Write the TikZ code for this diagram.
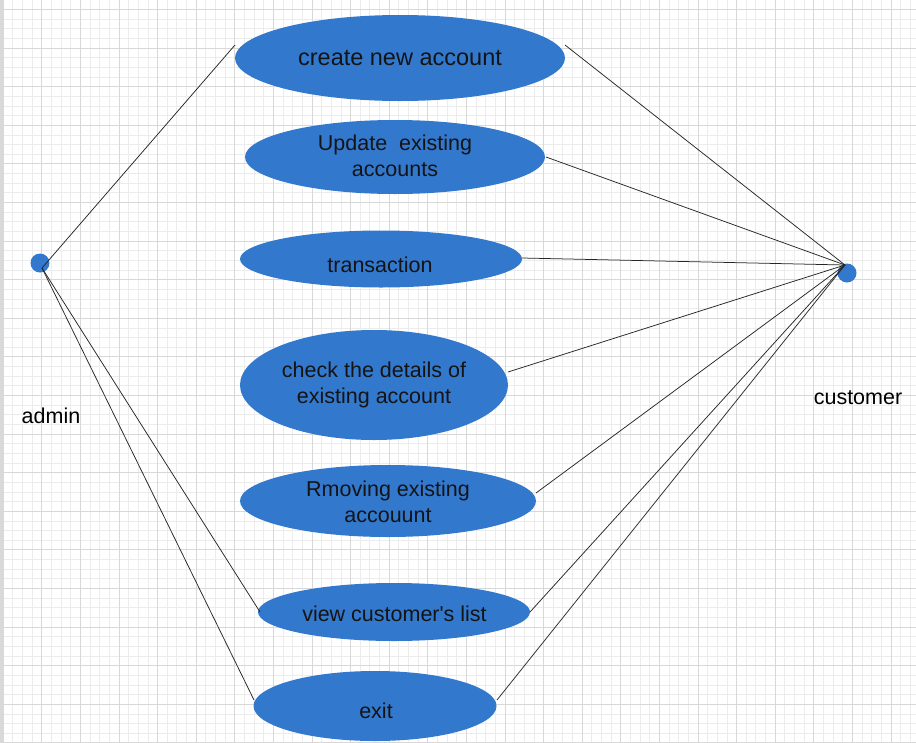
\documentclass[tikz,border=0pt]{standalone}
\usepackage{fontspec}
\setmainfont{Liberation Sans}
\usetikzlibrary{shapes.geometric}
\definecolor{ucblue}{RGB}{50,120,205}
\definecolor{gminor}{RGB}{236,236,236}
\definecolor{gmajor}{RGB}{216,216,216}
\tikzset{
  uc/.style={ellipse, fill=ucblue, draw=none, inner sep=0pt},
  uctext/.style={align=center, text=black!92, inner sep=0pt, font=\fontsize{21.5}{26}\selectfont},
  actor/.style={circle, fill=ucblue, draw=none, inner sep=0pt, minimum size=19pt},
  conn/.style={draw=black!85, line width=0.75pt},
  lbl/.style={font=\fontsize{21.5}{26}\selectfont, text=black}
}
\begin{document}
\begin{tikzpicture}[x=1pt,y=-1pt]
\useasboundingbox (0,0) rectangle (916,742);
\fill[white] (0,0) rectangle (916,742);
% grid
\foreach \i in {0,...,95} {
  \draw[gminor, line width=0.5pt] ({3+9.65*\i},0) -- ({3+9.65*\i},742);
}
\foreach \i in {-3,...,76} {
  \draw[gminor, line width=0.5pt] (0,{9.3+9.65*\i}) -- (916,{9.3+9.65*\i});
}
\foreach \i in {0,...,23} {
  \draw[gmajor, line width=0.6pt] ({3+38.6*\i},0) -- ({3+38.6*\i},742);
}
\foreach \i in {0,...,19} {
  \draw[gmajor, line width=0.6pt] (0,{9.3+38.6*\i}) -- (916,{9.3+38.6*\i});
}
\fill[black!15] (0,0) rectangle (3,742);
% use cases
\node[uc, minimum width=330pt, minimum height=86pt] (u1) at (400,58) {};
\node[uc, minimum width=300pt, minimum height=74pt] (u2) at (395,157) {};
\node[uc, minimum width=282pt, minimum height=57pt] (u3) at (381,259) {};
\node[uc, minimum width=268pt, minimum height=110pt] (u4) at (374,385) {};
\node[uc, minimum width=296pt, minimum height=72pt] (u5) at (388,501) {};
\node[uc, minimum width=272pt, minimum height=58pt] (u6) at (394,612) {};
\node[uc, minimum width=243pt, minimum height=70pt] (u7) at (375,706) {};
\node[uctext, font=\fontsize{23.5}{28}\selectfont] (t1) at (400,58) {create new account};
\node[uctext] (t2) at (395,156) {Update \ existing\\accounts};
\node[uctext] (t3) at (380,265) {transaction};
\node[uctext] (t4) at (374,385) {check the details of\\existing account};
\node[uctext] (t5) at (388,502) {Rmoving existing\\accouunt};
\node[uctext] (t6) at (394.5,614) {view customer\textquotesingle s list};
\node[uctext] (t7) at (376,711) {exit};
% actors
\node[actor] (admin) at (40,263) {};
\node[actor] (cust) at (847,273) {};
\coordinate (a0) at (42,268);
\coordinate (c0) at (845,265);
\node[lbl] (alab) at (51,416) {admin};
\node[lbl] (clab) at (858,398) {customer};
% admin connectors
\draw[conn] (a0) -- (235,45);
\draw[conn] (a0) -- (260,612);
\draw[conn] (a0) -- (254,700);
% customer connectors
\draw[conn] (c0) -- (565,45);
\draw[conn] (c0) -- (546,157);
\draw[conn] (c0) -- (522,258);
\draw[conn] (c0) -- (508,372);
\draw[conn] (c0) -- (536,493);
\draw[conn] (c0) -- (530,612);
\draw[conn] (c0) -- (497,700);
\end{tikzpicture}
\end{document}
